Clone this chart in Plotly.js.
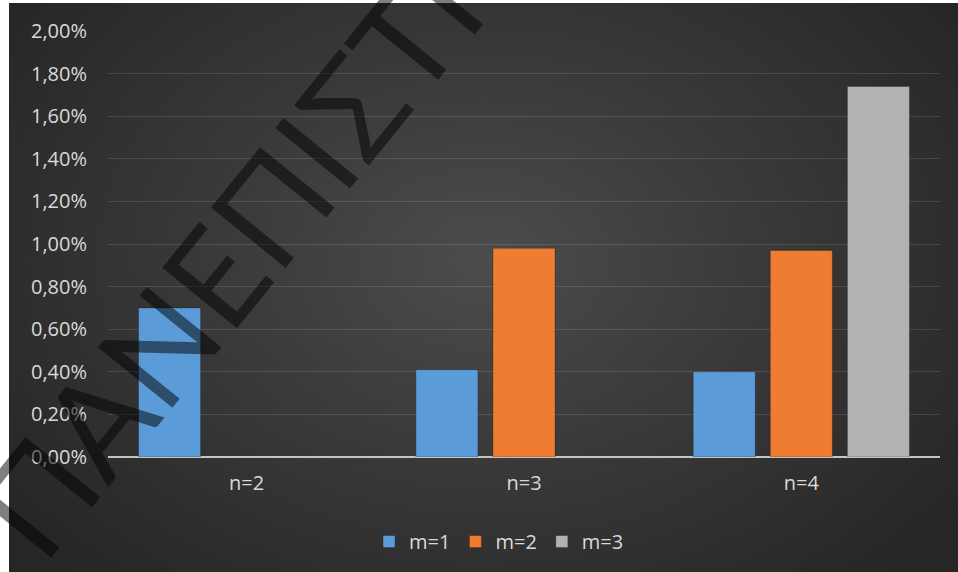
<!DOCTYPE html>
<html>
<head>
<meta charset="utf-8">
<script src="https://cdn.plot.ly/plotly-3.0.1.min.js"></script>
<style>
  html, body { margin: 0; padding: 0; background: #ffffff; }
  #bg {
    position: absolute; left: 9px; top: 3px; width: 949px; height: 569px;
    background: radial-gradient(ellipse 62% 75% at 50% 45%, #4c4c4c 0%, #3a3a3a 45%, #262626 100%);
  }
  #chart { position: absolute; left: 0; top: 0; width: 958px; height: 572px; }
</style>
</head>
<body>
<div id="bg"></div>
<div id="chart"></div>
<script>
// Categories and series (shares, as fractions)
const categories = ["n=2", "n=3", "n=4"];
const seriesNames = ["m=1", "m=2", "m=3"];
const m1 = [0.0070, 0.0041, 0.0040];
const m2 = [null, 0.0098, 0.0097];
const m3 = [null, null, 0.0174];
const seriesColors = ["#5b9bd8", "#ee7d31", "#b2b2b2"];

const values = [m1, m2, m3];
const traces = values.map((v, i) => ({
  type: "bar",
  name: seriesNames[i],
  x: categories,
  y: v,
  marker: { color: seriesColors[i], line: { color: "rgba(0,0,0,0.25)", width: 1 } },
  hoverinfo: "x+y+name"
}));

const layout = {
  width: 958,
  height: 572,
  paper_bgcolor: "rgba(0,0,0,0)",
  plot_bgcolor: "rgba(0,0,0,0)",
  separators: ",.",
  margin: { l: 108, r: 18, t: 31, b: 114 },
  barmode: "group",
  bargap: 0.166,
  bargroupgap: 0.195,
  font: { family: "Open Sans, sans-serif", color: "#d9d9d9", size: 20 },
  xaxis: {
    type: "category",
    showgrid: false,
    showline: false,
    zeroline: false,
    ticks: "",
    ticklabelstandoff: 12,
    tickfont: { size: 20, color: "#d9d9d9" }
  },
  yaxis: {
    range: [0, 0.02],
    dtick: 0.002,
    tick0: 0,
    tickformat: ".2%",
    showgrid: true,
    gridcolor: "rgba(255,255,255,0.13)",
    gridwidth: 1,
    zeroline: true,
    zerolinecolor: "#c4c4c4",
    zerolinewidth: 2,
    showline: false,
    ticks: "",
    ticklabelstandoff: 20,
    tickfont: { size: 20, color: "#d9d9d9" }
  },
  showlegend: true,
  legend: {
    orientation: "h",
    x: 0.47,
    xanchor: "center",
    y: -0.15,
    yanchor: "top",
    font: { size: 20, color: "#d9d9d9" },
    bgcolor: "rgba(0,0,0,0)",
    itemwidth: 30
  },
  annotations: [{
    text: "ΠΑΝΕΠΙΣΤΗΜΙΟ",
    xref: "paper", yref: "paper",
    x: 0.27, y: 0.77,
    xanchor: "center", yanchor: "middle",
    showarrow: false,
    textangle: -51,
    font: { family: "Lato, sans-serif", size: 134, color: "rgba(0,0,0,0.5)" }
  }]
};

Plotly.newPlot("chart", traces, layout, { displayModeBar: false, staticPlot: true });
</script>
</body>
</html>
